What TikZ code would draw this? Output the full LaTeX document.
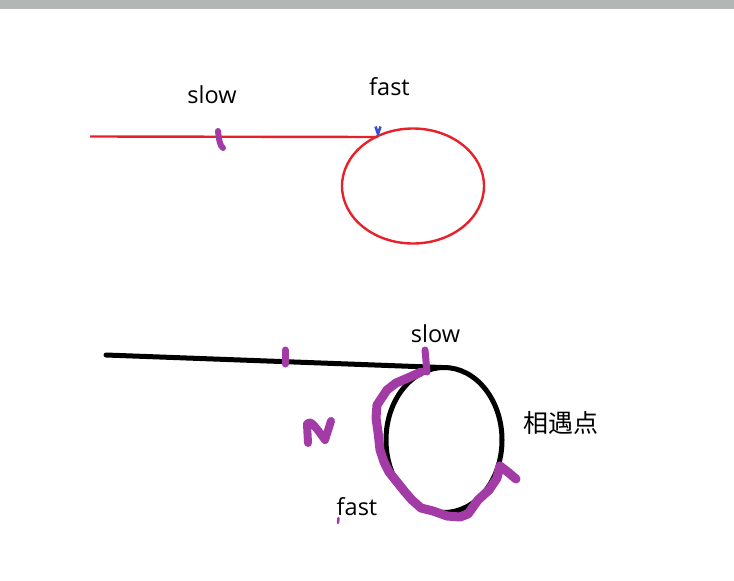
\documentclass[tikz,border=0pt]{standalone}
\usepackage{fontspec}
\setmainfont{Open Sans}
\newfontfamily\cjkfont{Noto Sans CJK SC}
\definecolor{bargray}{HTML}{B4B6B5}
\definecolor{penred}{HTML}{E8202A}
\definecolor{penpurple}{HTML}{A23BA6}
\definecolor{penblue}{HTML}{3C4FCF}
\tikzset{
  lbl/.style={anchor=base, inner sep=0pt, font=\fontsize{23.5}{26}\selectfont},
  cjklbl/.style={anchor=center, inner sep=0pt, font=\cjkfont\fontsize{25}{27}\selectfont},
  redpen/.style={draw=penred, line width=2.4pt},
  blackpen/.style={draw=black, line width=5pt, line cap=round},
  purplepen/.style={draw=penpurple, line width=9pt, line cap=round, line join=round},
  purpletick/.style={draw=penpurple, line width=7pt, line cap=round},
}
\begin{document}
\begin{tikzpicture}[x=1pt,y=-1pt]
\useasboundingbox (0,0) rectangle (734,581);
\fill[bargray] (0,0) rectangle (734,8.5);
% top diagram
\coordinate (tstart) at (90,136.5);
\coordinate (tjoin) at (378,137);
\draw[redpen] (tstart) -- (tjoin);
\draw[redpen] (413,186) ellipse [x radius=71, y radius=57.5];
\draw[purpletick, line width=6pt] (218,131) .. controls (219,140) and (220,146) .. (223,148);
\draw[penblue, line width=2.6pt, line join=round] (375.5,126.5) -- (378,134) -- (380.5,126.5);
\node[lbl] (tslow) at (212,103) {slow};
\node[lbl] (tfast) at (389.5,95) {fast};
% bottom diagram
\coordinate (bstart) at (106,355);
\coordinate (bjoin) at (442,367.5);
\draw[blackpen] (bstart) -- (bjoin);
\draw[black, line width=5pt] (444,440) ellipse [x radius=58, y radius=72.5];
\draw[purpletick] (285,350) -- (285,364);
\draw[purpletick] (425,350) -- (427,372);
\draw[purplepen, line width=8pt] (308,443) -- (307,424) .. controls (310,420) and (313,423) .. (325,440) -- (331,421);
\draw[purplepen] (421,372) -- (410,377) -- (396,383) -- (387,390) -- (377,405)
  -- (376,418) -- (378,432) -- (380,450) -- (384,462) -- (389,472) -- (397,482)
  -- (405,492) -- (412,500) -- (421,508) -- (433,511) -- (447,516) -- (460,517)
  -- (468,514) -- (478,500) -- (489,490) -- (497,478) -- (500,466)
  -- (509,473) -- (516,479);
\draw[penpurple, line width=2.5pt, line cap=round] (338.5,518) -- (338,523);
\node[lbl] (bslow) at (435.5,342) {slow};
\node[lbl] (bfast) at (357,515) {fast};
\node[cjklbl] (meet) at (561,423.5) {相遇点};
\end{tikzpicture}
\end{document}
